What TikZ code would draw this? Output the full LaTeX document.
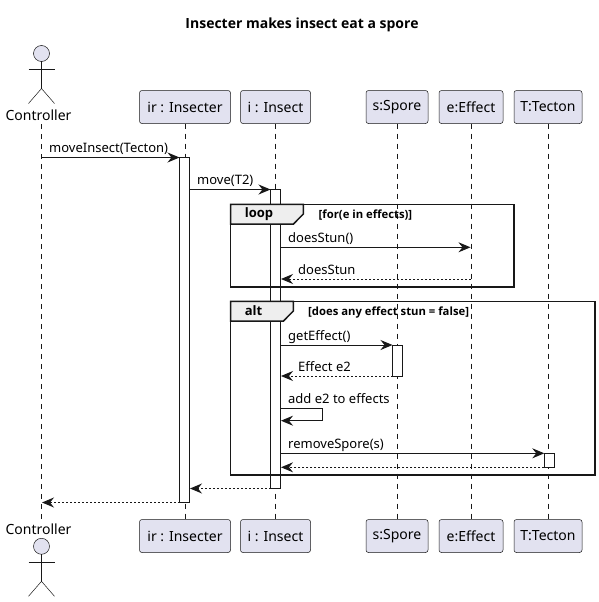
\documentclass[tikz,border=0pt]{standalone}
\usepackage{fontspec}
\setmainfont{Noto Sans}
\newfontfamily\headfont{Open Sans}
\usetikzlibrary{arrows.meta}
\definecolor{ink}{HTML}{181818}
\definecolor{boxfill}{HTML}{E2E2F0}
\definecolor{tabfill}{HTML}{EEEEEE}
\tikzset{
  part/.style={draw=ink,line width=0.5pt,fill=boxfill,rounded corners=2.5pt,inner sep=0pt,outer sep=0pt,font=\fontsize{14}{16}\selectfont,minimum height=33pt},
  life/.style={draw=ink,line width=0.5pt,dash pattern=on 5pt off 5pt},
  actor/.style={draw=ink,line width=0.5pt},
  acttext/.style={inner sep=0pt,font=\fontsize{14}{16}\selectfont},
  activation/.style={draw=ink,line width=1pt,fill=white,inner sep=0pt,outer sep=0pt,minimum width=10pt},
  msg/.style={draw=ink,line width=1pt,-{Stealth[length=12pt,width=10pt,inset=4pt,color=ink]}},
  ret/.style={msg,dash pattern=on 2pt off 2pt},
  lbl/.style={inner sep=0pt,anchor=base west,font=\fontsize{13}{15}\selectfont},
  frameline/.style={draw=ink,line width=1.5pt},
  tab/.style={draw=ink,line width=1.5pt,fill=tabfill},
  tabtext/.style={inner sep=0pt,font=\headfont\fontsize{13}{15}\selectfont\bfseries},
  guard/.style={inner sep=0pt,anchor=base west,font=\headfont\fontsize{11.3}{13}\selectfont\bfseries},
}
\begin{document}
\begin{tikzpicture}[x=1pt,y=-1pt]
\useasboundingbox (0,0) rectangle (599,602);
\fill[white] (0,0) rectangle (599,602);
\node[inner sep=0pt,font=\headfont\fontsize{14}{16}\selectfont\bfseries] (title) at (302,25) {Insecter makes insect eat a spore};
% participants
\node[acttext] (cT) at (38.5,115) {Controller};
\node[acttext] (cB) at (38.5,529) {Controller};
\node[part,minimum width=91pt] (irT) at (185,107) {ir : Insecter};
\node[part,minimum width=70pt] (iT) at (275.5,107) {i : Insect};
\node[part,minimum width=62pt] (sT) at (397,107) {s:Spore};
\node[part,minimum width=64pt] (eT) at (471,107) {e:Effect};
\node[part,minimum width=68pt] (tT) at (548,107) {T:Tecton};
\node[part,minimum width=91pt] (irB) at (185,536) {ir : Insecter};
\node[part,minimum width=70pt] (iB) at (275.5,536) {i : Insect};
\node[part,minimum width=62pt] (sB) at (397,536) {s:Spore};
\node[part,minimum width=64pt] (eB) at (471,536) {e:Effect};
\node[part,minimum width=68pt] (tB) at (548,536) {T:Tecton};
% lifelines
\coordinate (ctop) at (41.5,124);
\coordinate (cbot) at (41.5,520);
\draw[life] (ctop) -- (cbot);
\draw[life] (irT.south) -- (irB.north);
\draw[life] (iT.south) -- (iB.north);
\draw[life] (sT.south) -- (sB.north);
\draw[life] (eT.south) -- (eB.north);
\draw[life] (tT.south) -- (tB.north);
% actors
\foreach \n/\h in {a/53.5,b/546.3}{
  \draw[actor,fill=boxfill] (41.5,\h) circle[radius=8pt];
  \draw[actor] (41.5,\h+8) -- (41.5,\h+35);
  \draw[actor] (28.5,\h+16) -- (54.5,\h+16);
  \draw[actor] (28.5,\h+50) -- (41.5,\h+35) -- (54.5,\h+50);
}
% activations
\node[activation,minimum height=345pt] (aIR) at (184.5,330) {};
\node[activation,minimum height=299pt] (aI) at (275.5,339) {};
\node[activation,minimum height=31pt] (aS) at (397.5,360.5) {};
\node[activation,minimum height=14pt] (aT) at (549.3,460.3) {};
% frames
\draw[frameline] (230.5,204.3) rectangle (514,287);
\draw[tab] (230.5,204.3) -- (303.3,204.3) -- (303.3,214) -- (293.5,224) -- (230.5,224) -- cycle;
\node[tabtext] (loopL) at (259,214) {loop};
\node[guard] (loopG) at (318.5,218.5) {[for(e in effects)]};
\draw[frameline] (230.5,301.3) rectangle (595,475);
\draw[tab] (230.5,301.3) -- (293.3,301.3) -- (293.3,311) -- (283.5,321) -- (230.5,321) -- cycle;
\node[tabtext] (altL) at (253.5,311) {alt};
\node[guard] (altG) at (308,315.5) {[does any effect stun = false]};
% messages
\coordinate (c1) at (41.5,157.5);
\draw[msg] (c1) -- (aIR.north west);
\node[lbl] (m1) at (49,152) {moveInsect(Tecton)};
\coordinate (irM) at (189.5,189.5);
\draw[msg] (irM) -- (aI.north west);
\node[lbl] (m2) at (197,184) {move(T2)};
\coordinate (eA) at (470.5,247.3);
\coordinate (eB2) at (471,279);
\coordinate (iA) at (280.5,247.3);
\coordinate (iB2) at (281,279);
\draw[msg] (iA) -- (eA);
\node[lbl] (m3) at (288,242) {doesStun()};
\draw[ret] (eB2) -- (iB2);
\node[lbl] (m4) at (298,274) {doesStun};
\coordinate (iC) at (280.5,345);
\coordinate (iD) at (281,376);
\draw[msg] (iC) -- (aS.north west);
\node[lbl] (m5) at (288,340) {getEffect()};
\draw[ret] (aS.south west) -- (iD);
\node[lbl] (m6) at (298,371) {Effect e2};
\coordinate (iE) at (280.5,408.3);
\coordinate (iF) at (281,420.7);
\coordinate (selfR) at (322.5,408.3);
\coordinate (selfS) at (322.5,420.7);
\draw[msg] (iE) -- (selfR) -- (selfS) -- (iF);
\node[lbl] (m7) at (288,403) {add e2 to effects};
\coordinate (iG) at (280.5,453.3);
\coordinate (iH) at (281,467.3);
\draw[msg] (iG) -- (aT.north west);
\node[lbl] (m8) at (288,448) {removeSpore(s)};
\draw[ret] (aT.south west) -- (iH);
\coordinate (irR) at (190,488.5);
\draw[ret] (aI.south west) -- (irR);
\coordinate (cR) at (42,502.5);
\draw[ret] (aIR.south west) -- (cR);
\end{tikzpicture}
\end{document}
